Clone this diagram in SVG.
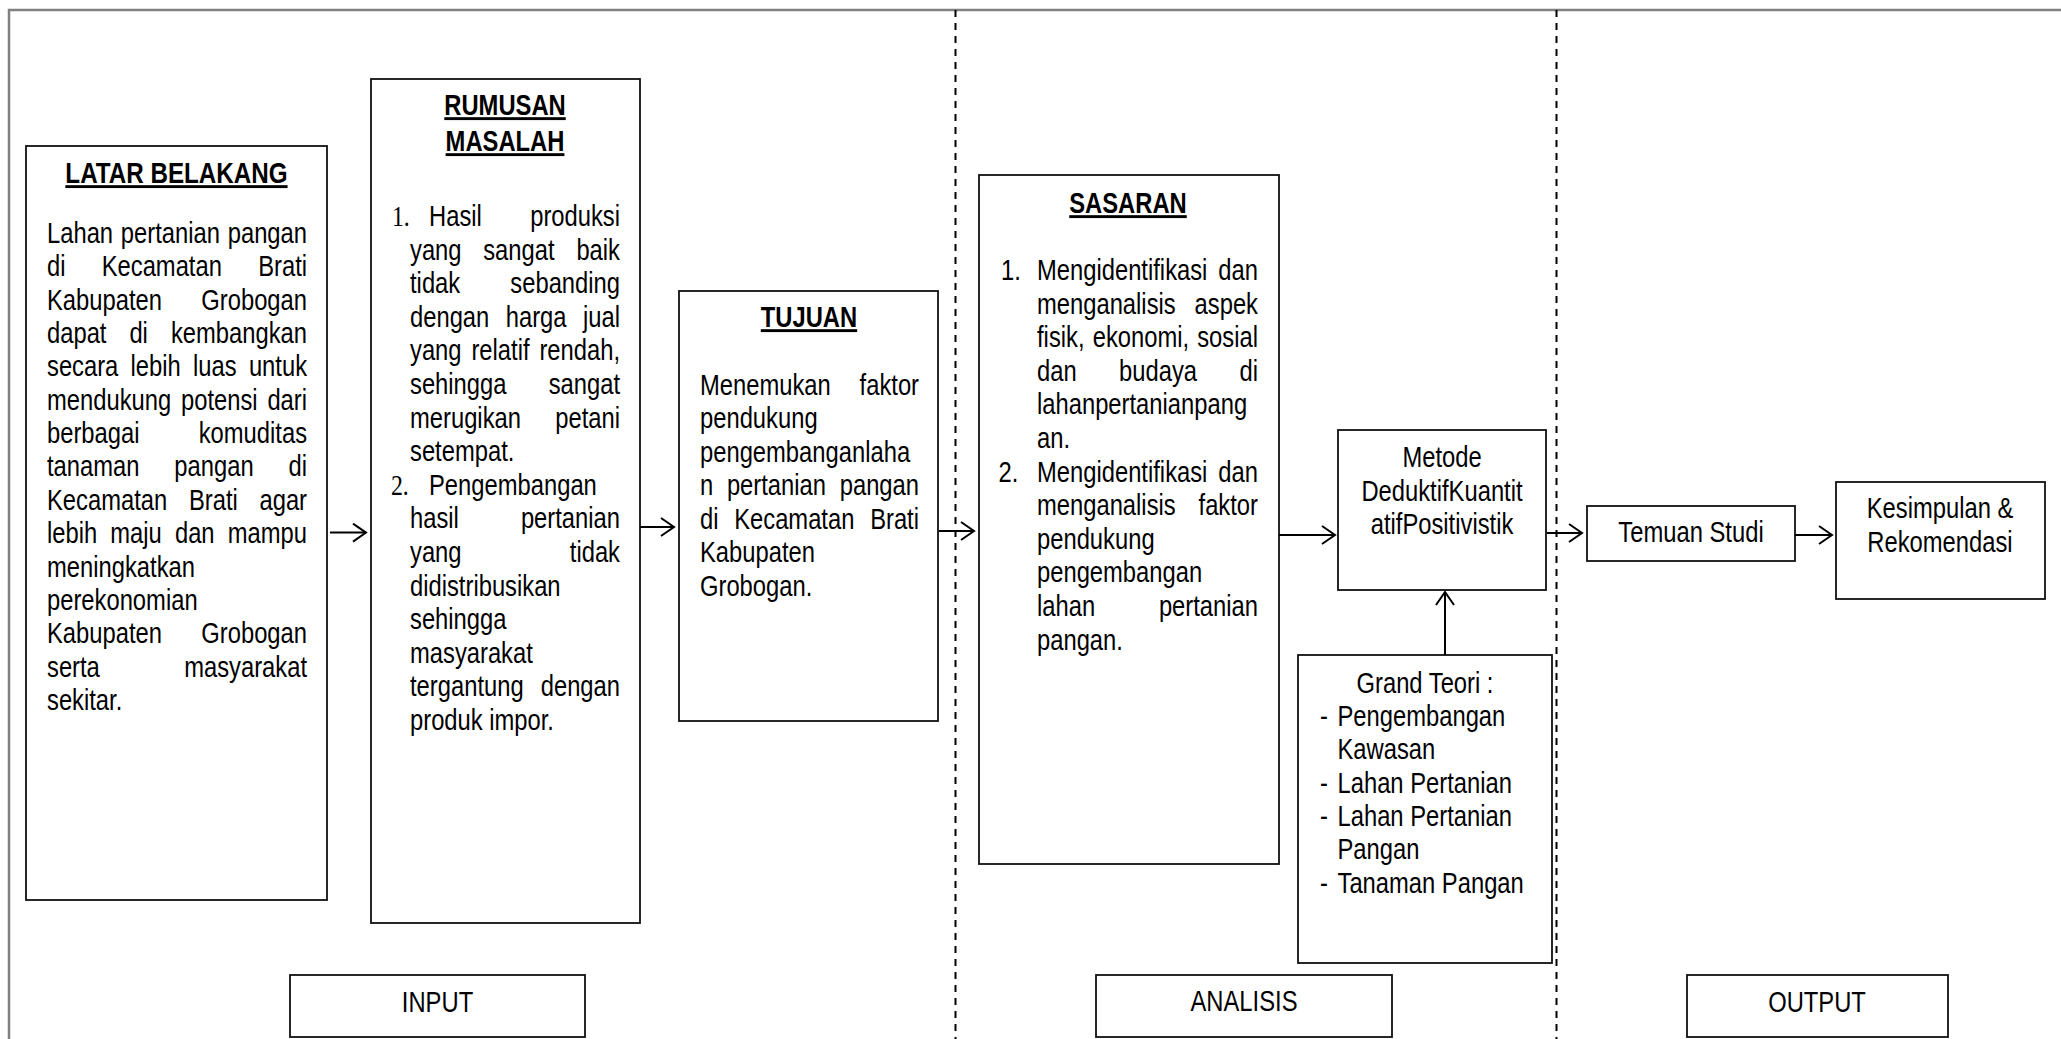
<svg xmlns="http://www.w3.org/2000/svg" width="2061" height="1039" viewBox="0 0 2061 1039">
<style>
.box{fill:#fff;stroke:#111;stroke-width:1.8}
.t{font-family:'Liberation Sans',Arial,sans-serif;font-size:29px;fill:#000}
.h{font-weight:bold;text-decoration:underline}
.c{text-anchor:middle}
.e{text-anchor:end}
.n{font-family:'Liberation Serif',serif}
.con{stroke:#000;stroke-width:2;fill:none}
.div{stroke:#000;stroke-width:2;stroke-dasharray:7 6;fill:none}
</style>
<defs>
<marker id="arr" markerUnits="userSpaceOnUse" markerWidth="18" markerHeight="22" refX="15" refY="10" orient="auto">
<path d="M2,1 L15,10 L2,19" fill="none" stroke="#000" stroke-width="2"/>
</marker>
</defs>
<rect width="2061" height="1039" fill="#fff"/>
<rect x="9" y="10" width="2100" height="1100" fill="none" stroke="#808080" stroke-width="2.5"/>
<g id="dividers">
<line class="div" x1="955.5" y1="10" x2="955.5" y2="1039"/>
<line class="div" x1="1556.5" y1="10" x2="1556.5" y2="1039"/>
</g>

<g id="latar-belakang">
<rect class="box" x="26" y="146" width="301" height="754"/>
<g class="t" transform="translate(47 0) scale(0.82 1)">
<text class="h c" x="157.9" y="183" textLength="271" lengthAdjust="spacingAndGlyphs">LATAR BELAKANG</text>
<text x="0" y="243">Lahan<tspan x="90">pertanian</tspan></text><text class="e" x="317.1" y="243">pangan</text>
<text x="0" y="276">di<tspan x="66.7">Kecamatan</tspan></text><text class="e" x="317.1" y="276">Brati</text>
<text x="0" y="310">Kabupaten</text><text class="e" x="317.1" y="310">Grobogan</text>
<text x="0" y="343">dapat<tspan x="100.5">di</tspan></text><text class="e" x="317.1" y="343">kembangkan</text>
<text x="0" y="376">secara<tspan x="101.9">lebih</tspan><tspan x="178">luas</tspan></text><text class="e" x="317.1" y="376">untuk</text>
<text x="0" y="410">mendukung<tspan x="163.4">potensi</tspan></text><text class="e" x="317.1" y="410">dari</text>
<text x="0" y="443">berbagai</text><text class="e" x="317.1" y="443">komuditas</text>
<text x="0" y="476">tanaman<tspan x="155.3">pangan</tspan></text><text class="e" x="317.1" y="476">di</text>
<text x="0" y="510">Kecamatan<tspan x="173.1">Brati</tspan></text><text class="e" x="317.1" y="510">agar</text>
<text x="0" y="543">lebih<tspan x="77.2">maju</tspan><tspan x="156">dan</tspan></text><text class="e" x="317.1" y="543">mampu</text>
<text x="0" y="577">meningkatkan</text>
<text x="0" y="610">perekonomian</text>
<text x="0" y="643">Kabupaten</text><text class="e" x="317.1" y="643">Grobogan</text>
<text x="0" y="677">serta</text><text class="e" x="317.1" y="677">masyarakat</text>
<text x="0" y="710">sekitar.</text>
</g>
</g>

<g id="rumusan-masalah">
<rect class="box" x="371" y="79" width="269" height="844"/>
<g class="t" transform="translate(410 0) scale(0.82 1)">
<text class="h c" x="115.9" y="115">RUMUSAN</text>
<text class="h c" x="115.9" y="151">MASALAH</text>
<text class="n" x="-22" y="226">1.</text><text x="23.2" y="226">Hasil</text><text class="e" x="256.1" y="226">produksi</text>
<text x="0" y="259.6">yang<tspan x="89.3">sangat</tspan></text><text class="e" x="256.1" y="259.6">baik</text>
<text x="0" y="293.2">tidak</text><text class="e" x="256.1" y="293.2">sebanding</text>
<text x="0" y="326.8">dengan<tspan x="116.8">harga</tspan></text><text class="e" x="256.1" y="326.8">jual</text>
<text x="0" y="360.4">yang<tspan x="74.9">relatif</tspan></text><text class="e" x="256.1" y="360.4">rendah,</text>
<text x="0" y="394">sehingga</text><text class="e" x="256.1" y="394">sangat</text>
<text x="0" y="427.6">merugikan</text><text class="e" x="256.1" y="427.6">petani</text>
<text x="0" y="461.2">setempat.</text>
<text class="n" x="-23.2" y="494.8">2.</text><text x="23.2" y="494.8">Pengembangan</text>
<text x="0" y="528.4">hasil</text><text class="e" x="256.1" y="528.4">pertanian</text>
<text x="0" y="562">yang</text><text class="e" x="256.1" y="562">tidak</text>
<text x="0" y="595.6">didistribusikan</text>
<text x="0" y="629.2">sehingga</text>
<text x="0" y="662.8">masyarakat</text>
<text x="0" y="696.4">tergantung</text><text class="e" x="256.1" y="696.4">dengan</text>
<text x="0" y="730">produk impor.</text>
</g>
</g>

<g id="tujuan">
<rect class="box" x="679" y="291" width="259" height="430"/>
<g class="t" transform="translate(700 0) scale(0.82 1)">
<text class="h c" x="132.9" y="327">TUJUAN</text>
<text x="0" y="395">Menemukan</text><text class="e" x="267.1" y="395">faktor</text>
<text x="0" y="428.5">pendukung</text>
<text x="0" y="462">pengembanganlaha</text>
<text x="0" y="495.5">n<tspan x="32.8">pertanian</tspan></text><text class="e" x="267.1" y="495.5">pangan</text>
<text x="0" y="529">di<tspan x="41.7">Kecamatan</tspan></text><text class="e" x="267.1" y="529">Brati</text>
<text x="0" y="562.5">Kabupaten</text>
<text x="0" y="596">Grobogan.</text>
</g>
</g>

<g id="sasaran">
<rect class="box" x="979" y="175" width="300" height="689"/>
<g class="t" transform="translate(1037 0) scale(0.82 1)">
<text class="h c" x="111" y="213">SASARAN</text>
<text x="-43.9" y="280">1.</text><text x="0" y="280">Mengidentifikasi</text><text class="e" x="269.5" y="280">dan</text>
<text x="0" y="313.6">menganalisis</text><text class="e" x="269.5" y="313.6">aspek</text>
<text x="0" y="347.2">fisik,<tspan x="67.9">ekonomi,</tspan></text><text class="e" x="269.5" y="347.2">sosial</text>
<text x="0" y="380.8">dan<tspan x="100.1">budaya</tspan></text><text class="e" x="269.5" y="380.8">di</text>
<text x="0" y="414.4">lahanpertanianpang</text>
<text x="0" y="448">an.</text>
<text x="-47" y="481.6">2.</text><text x="0" y="481.6">Mengidentifikasi</text><text class="e" x="269.5" y="481.6">dan</text>
<text x="0" y="515.2">menganalisis</text><text class="e" x="269.5" y="515.2">faktor</text>
<text x="0" y="548.8">pendukung</text>
<text x="0" y="582.4">pengembangan</text>
<text x="0" y="616">lahan</text><text class="e" x="269.5" y="616">pertanian</text>
<text x="0" y="649.6">pangan.</text>
</g>
</g>

<g id="metode">
<rect class="box" x="1338" y="430" width="208" height="160"/>
<g class="t c" transform="translate(1442 0) scale(0.82 1)">
<text x="0" y="467">Metode</text>
<text x="0" y="501">DeduktifKuantit</text>
<text x="0" y="534">atifPositivistik</text>
</g>
</g>

<g id="grand-teori">
<rect class="box" x="1298" y="655" width="254" height="308"/>
<g class="t" transform="translate(1337.5 0) scale(0.82 1)">
<text class="c" x="106.7" y="693">Grand Teori :</text>
<text x="-21.3" y="726">-</text><text x="0" y="726">Pengembangan</text>
<text x="0" y="759">Kawasan</text>
<text x="-21.3" y="793">-</text><text x="0" y="793">Lahan Pertanian</text>
<text x="-21.3" y="826">-</text><text x="0" y="826">Lahan Pertanian</text>
<text x="0" y="859">Pangan</text>
<text x="-21.3" y="893">-</text><text x="0" y="893">Tanaman Pangan</text>
</g>
</g>

<g id="temuan-studi">
<rect class="box" x="1587" y="506" width="208" height="55"/>
<g class="t c" transform="translate(1691 0) scale(0.82 1)"><text x="0" y="542">Temuan Studi</text></g>
</g>

<g id="kesimpulan">
<rect class="box" x="1836" y="482" width="209" height="117"/>
<g class="t c" transform="translate(1940 0) scale(0.82 1)">
<text x="0" y="518">Kesimpulan &amp;</text>
<text x="0" y="552">Rekomendasi</text>
</g>
</g>

<g id="input">
<rect class="box" x="290" y="975" width="295" height="62"/>
<g class="t c" transform="translate(437.5 0) scale(0.82 1)"><text x="0" y="1012">INPUT</text></g>
</g>
<g id="analisis">
<rect class="box" x="1096" y="975" width="296" height="62"/>
<g class="t c" transform="translate(1244 0) scale(0.82 1)"><text x="0" y="1011">ANALISIS</text></g>
</g>
<g id="output">
<rect class="box" x="1687" y="975" width="261" height="62"/>
<g class="t c" transform="translate(1817 0) scale(0.82 1)"><text x="0" y="1012">OUTPUT</text></g>
</g>

<g id="connectors">
<line class="con" x1="330" y1="532.6" x2="366" y2="532.6" marker-end="url(#arr)"/>
<line class="con" x1="640" y1="527" x2="674" y2="527" marker-end="url(#arr)"/>
<line class="con" x1="939" y1="531" x2="974" y2="531" marker-end="url(#arr)"/>
<line class="con" x1="1279" y1="535" x2="1335" y2="535" marker-end="url(#arr)"/>
<line class="con" x1="1547" y1="533" x2="1582" y2="533" marker-end="url(#arr)"/>
<line class="con" x1="1795" y1="535" x2="1832" y2="535" marker-end="url(#arr)"/>
<line class="con" x1="1445" y1="655" x2="1445" y2="592" marker-end="url(#arr)"/>
</g>
</svg>
